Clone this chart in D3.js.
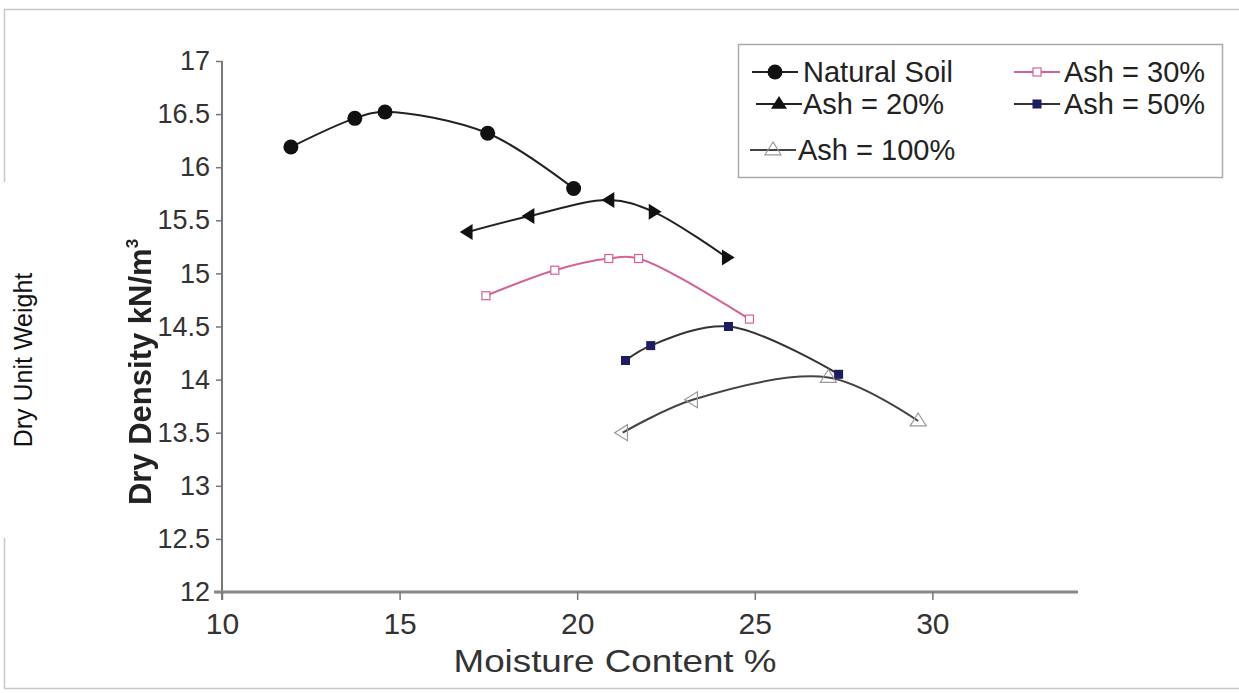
<!DOCTYPE html>
<html>
<head>
<meta charset="utf-8">
<script src="https://cdn.jsdelivr.net/npm/d3@7"></script>
<style>
  html, body { margin: 0; padding: 0; background: #fff; }
  svg { display: block; }
  text { font-family: "Liberation Sans", Arial, sans-serif; }
</style>
</head>
<body>
<svg id="chart" width="1239" height="693"></svg>
<script>
// Compaction curves: dry density vs moisture content for soil / ash mixes
const xTicks = [10, 15, 20, 25, 30];
const yTicks = [12, 12.5, 13, 13.5, 14, 14.5, 15, 15.5, 16, 16.5, 17];

const seriesNames = ["Natural Soil", "Ash = 20%", "Ash = 30%", "Ash = 50%", "Ash = 100%"];

const naturalMoisture = [11.94, 13.74, 14.59, 17.48, 19.90];
const naturalDensity  = [16.19, 16.46, 16.52, 16.32, 15.80];

const ash20Moisture = [16.92, 18.66, 20.91, 22.15, 24.21];
const ash20Density  = [15.39, 15.54, 15.69, 15.58, 15.15];

const ash30Moisture = [17.43, 19.37, 20.89, 21.73, 24.85];
const ash30Density  = [14.79, 15.03, 15.14, 15.14, 14.57];

const ash50Moisture = [21.36, 22.07, 24.26, 27.36];
const ash50Density  = [14.18, 14.32, 14.50, 14.05];

const ash100Moisture = [21.28, 23.25, 27.07, 29.60];
const ash100Density  = [13.50, 13.81, 14.02, 13.61];

const zip = (xs, ys) => xs.map((x, i) => ({ x, y: ys[i] }));

const series = [
  { name: seriesNames[0], pts: zip(naturalMoisture, naturalDensity), line: "#222", marker: "circle" },
  { name: seriesNames[1], pts: zip(ash20Moisture, ash20Density), line: "#222", marker: "tri" },
  { name: seriesNames[2], pts: zip(ash30Moisture, ash30Density), line: "#d4619a", marker: "openSquare" },
  { name: seriesNames[3], pts: zip(ash50Moisture, ash50Density), line: "#333", marker: "square" },
  { name: seriesNames[4], pts: zip(ash100Moisture, ash100Density), line: "#444", marker: "openTri" }
];

const svg = d3.select("#chart");

// outer frame
svg.append("rect").attr("x", 4.5).attr("y", 9.5).attr("width", 1240).attr("height", 679)
  .attr("fill", "none").attr("stroke", "#c8c8c8").attr("stroke-width", 1.5);

const x = d3.scaleLinear().domain([10, 34.1]).range([222, 1078]);
const y = d3.scaleLinear().domain([12, 17]).range([592, 61]);

// y axis
const yAxis = svg.append("g").attr("transform", `translate(${x(10)},0)`)
  .call(d3.axisLeft(y).tickValues(yTicks).tickSize(6).tickPadding(6)
    .tickFormat(d => d3.format("")(d)));
yAxis.select(".domain").attr("stroke", "#777").attr("stroke-width", 2).attr("d", `M0,${y(17)}V${y(12) + 8}`);
yAxis.selectAll(".tick line").attr("stroke", "#777").attr("stroke-width", 1.5);
yAxis.selectAll(".tick text").attr("font-size", 27).attr("fill", "#333")
  .attr("font-family", "Liberation Sans, Arial, sans-serif");

// x axis
const xAxis = svg.append("g").attr("transform", `translate(0,${y(12)})`)
  .call(d3.axisBottom(x).tickValues(xTicks).tickSize(8).tickPadding(13));
xAxis.select(".domain").attr("stroke", "#888").attr("stroke-width", 3).attr("d", `M${x(10) - 8},0H${x(34.1)}`);
xAxis.selectAll(".tick line").attr("stroke", "#777").attr("stroke-width", 1.5);
xAxis.selectAll(".tick text").attr("font-size", 30).attr("fill", "#333")
  .attr("font-family", "Liberation Sans, Arial, sans-serif");

// axis titles
svg.append("text").attr("transform", "translate(615,672) scale(1.15,1)").attr("text-anchor", "middle")
  .attr("font-size", 32).attr("fill", "#333").text("Moisture Content %");

const defs = svg.append("defs");
defs.append("filter").attr("id", "soft").append("feGaussianBlur").attr("stdDeviation", 0.7);

const yTitle = svg.append("text").attr("transform", "translate(151,372) rotate(-90)")
  .attr("text-anchor", "middle").attr("font-size", 31).attr("font-weight", "bold")
  .attr("fill", "#222").attr("filter", "url(#soft)");
yTitle.append("tspan").text("Dry Density kN/m");
yTitle.append("tspan").attr("font-size", 17).attr("dy", -13).text("3");

// second title drawn over the frame edge
svg.append("rect").attr("x", 0).attr("y", 182).attr("width", 46).attr("height", 356).attr("fill", "#fff");
svg.append("text").attr("transform", "translate(32,360) rotate(-90)")
  .attr("text-anchor", "middle").attr("font-size", 25).attr("fill", "#111")
  .attr("font-family", "'Open Sans', Lato, sans-serif").text("Dry Unit Weight");

// curves
const line = d3.line().x(d => x(d.x)).y(d => y(d.y)).curve(d3.curveCatmullRom.alpha(0.5));
series.forEach(s => {
  svg.append("path").datum(s.pts).attr("d", line).attr("fill", "none")
    .attr("stroke", s.line).attr("stroke-width", 2);
});

// marker shapes
function drawMarker(g, kind, cx, cy, dir) {
  if (kind === "circle") {
    g.append("circle").attr("cx", cx).attr("cy", cy).attr("r", 7.5).attr("fill", "#111");
  } else if (kind === "tri") {
    const s = 8;
    let pts;
    if (dir === "left") pts = [[cx - s, cy], [cx + s * 0.6, cy - s], [cx + s * 0.6, cy + s]];
    else if (dir === "right") pts = [[cx + s, cy], [cx - s * 0.6, cy - s], [cx - s * 0.6, cy + s]];
    else pts = [[cx, cy - s], [cx - s, cy + s * 0.6], [cx + s, cy + s * 0.6]];
    g.append("polygon").attr("points", pts.map(p => p.join(",")).join(" ")).attr("fill", "#111");
  } else if (kind === "openSquare") {
    g.append("rect").attr("x", cx - 4).attr("y", cy - 4).attr("width", 8).attr("height", 8)
      .attr("fill", "#fff").attr("stroke", "#d4619a").attr("stroke-width", 1.2);
  } else if (kind === "square") {
    g.append("rect").attr("x", cx - 4.5).attr("y", cy - 4.5).attr("width", 9).attr("height", 9)
      .attr("fill", "#1c1c5e");
  } else if (kind === "openTri") {
    const s = 8;
    let pts;
    if (dir === "left") pts = [[cx - s, cy], [cx + s * 0.6, cy - s], [cx + s * 0.6, cy + s]];
    else pts = [[cx, cy - s], [cx - s, cy + s * 0.6], [cx + s, cy + s * 0.6]];
    g.append("polygon").attr("points", pts.map(p => p.join(",")).join(" "))
      .attr("fill", "none").attr("stroke", "#999").attr("stroke-width", 1.2);
  }
}

const ash20Dirs = ["left", "left", "left", "right", "right"];
const ash100Dirs = ["left", "left", "up", "up"];

series.forEach((s, si) => {
  const g = svg.append("g");
  s.pts.forEach((p, i) => {
    const dir = si === 1 ? ash20Dirs[i] : si === 4 ? ash100Dirs[i] : "up";
    drawMarker(g, s.marker, x(p.x), y(p.y), dir);
  });
});

// legend
const lg = svg.append("g");
lg.append("rect").attr("x", 738.5).attr("y", 44.5).attr("width", 484).attr("height", 133)
  .attr("fill", "#fff").attr("stroke", "#aaa").attr("stroke-width", 1.5);

const legendItems = [
  { s: series[0], lx: 752, ly: 72, tx: 803 },
  { s: series[1], lx: 756, ly: 104, tx: 803 },
  { s: series[4], lx: 750, ly: 150, tx: 798 },
  { s: series[2], lx: 1014, ly: 72, tx: 1064 },
  { s: series[3], lx: 1014, ly: 104, tx: 1064 }
];
legendItems.forEach(it => {
  const g = lg.append("g");
  g.append("line").attr("x1", it.lx).attr("x2", it.lx + 46).attr("y1", it.ly).attr("y2", it.ly)
    .attr("stroke", it.s.line).attr("stroke-width", 2);
  drawMarker(g, it.s.marker, it.lx + 23, it.ly, "up");
  g.append("text").attr("x", it.tx).attr("y", it.ly + 10).attr("font-size", 29)
    .attr("fill", "#222").text(it.s.name);
});
</script>
</body>
</html>
